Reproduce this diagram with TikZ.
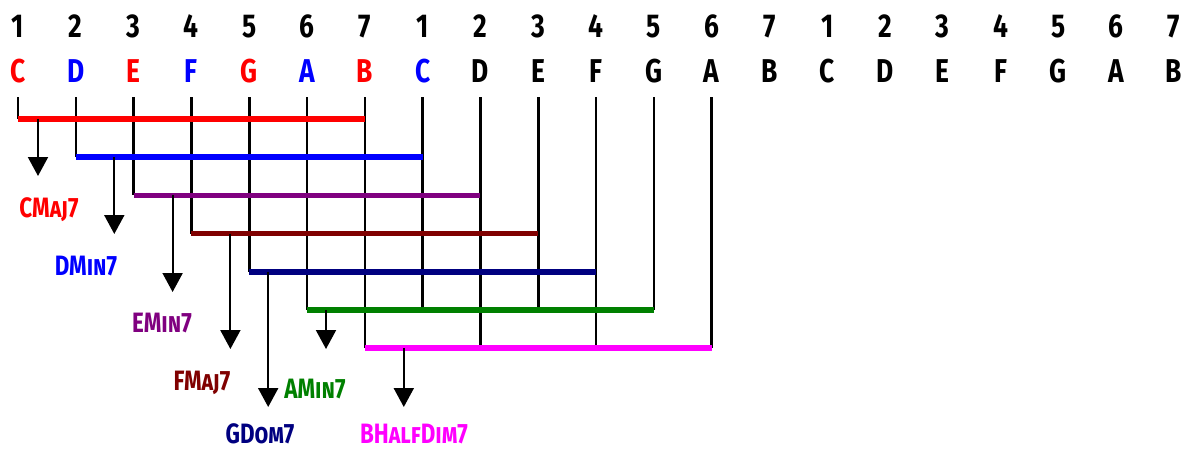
\documentclass[tikz,border=0pt]{standalone}
\usepackage{fontspec}
\setmainfont{Fira Sans}[FakeStretch=0.8]
\usetikzlibrary{arrows.meta}
\definecolor{cred}{RGB}{255,0,0}
\definecolor{cblue}{RGB}{0,0,255}
\definecolor{cpurple}{RGB}{128,0,128}
\definecolor{cmaroon}{RGB}{128,0,0}
\definecolor{cnavy}{RGB}{0,0,128}
\definecolor{cgreen}{RGB}{0,128,0}
\definecolor{cmagenta}{RGB}{255,0,255}
\tikzset{
  num/.style={anchor=base, inner sep=0pt, font=\bfseries\fontsize{33}{35}\selectfont},
  note/.style={anchor=base, inner sep=0pt, font=\bfseries\fontsize{33}{35}\selectfont},
  chordlabel/.style={anchor=base, inner sep=0pt, font=\bfseries\scshape\fontsize{28}{30}\selectfont},
  vline/.style={draw=black, line width=2.6pt},
  bar/.style={line width=5.5pt},
  chordarrow/.style={draw=black, line width=2pt, -{Triangle[width=20pt,length=19pt]}}
}
\begin{document}
\begin{tikzpicture}[x=1pt,y=-1pt]
\useasboundingbox (0,0) rectangle (1199,451);
% scale degree numbers
\foreach \i in {0,...,20} {
  \pgfmathtruncatemacro\d{mod(\i,7)+1}
  \node[num] (n\i) at ({18+57.8*\i},37) {\d};
}
% note names
\foreach \i/\l/\c in {0/C/cred,1/D/cblue,2/E/cred,3/F/cblue,4/G/cred,5/A/cblue,6/B/cred,7/C/cblue,
  8/D/black,9/E/black,10/F/black,11/G/black,12/A/black,13/B/black,
  14/C/black,15/D/black,16/E/black,17/F/black,18/G/black,19/A/black,20/B/black} {
  \node[note, text=\c] (m\i) at ({18+57.8*\i},82) {\l};
}
% vertical lines
\foreach \i/\b in {0/0,1/1,2/2,3/3,4/4,5/5,6/6,7/5,8/6,9/5,10/6,11/5,12/6} {
  \coordinate (t\i) at ({18+57.8*\i},97);
  \coordinate (b\i) at ({18+57.8*\i},{119+38.2*\b});
  \draw[vline] (t\i) -- (b\i);
}
% chord bars
\foreach \j/\c in {0/cred,1/cblue,2/cpurple,3/cmaroon,4/cnavy,5/cgreen,6/cmagenta} {
  \coordinate (bs\j) at ({18+57.8*\j},{119+38.2*\j});
  \coordinate (be\j) at ({18+57.8*(\j+6)},{119+38.2*\j});
  \draw[bar, draw=\c] (bs\j) -- (be\j);
}
% arrows
\foreach \j/\o/\t in {0/20/176,1/38.5/234,2/39/292,3/39/349,4/19/407,5/19/349,6/39/407} {
  \coordinate (as\j) at ({18+57.8*\j+\o},{119+38.2*\j});
  \coordinate (at\j) at ({18+57.8*\j+\o},\t);
  \draw[chordarrow] (as\j) -- (at\j);
}
% chord labels
\node[chordlabel, text=cred] (l0) at (49,217) {CMaj7};
\node[chordlabel, text=cblue] (l1) at (86,275) {DMin7};
\node[chordlabel, text=cpurple] (l2) at (162,332) {EMin7};
\node[chordlabel, text=cmaroon] (l3) at (202,390) {FMaj7};
\node[chordlabel, text=cnavy] (l4) at (260,443) {GDom7};
\node[chordlabel, text=cgreen] (l5) at (315,398) {AMin7};
\node[chordlabel, text=cmagenta] (l6) at (414,443) {BHalfDim7};
\end{tikzpicture}
\end{document}
